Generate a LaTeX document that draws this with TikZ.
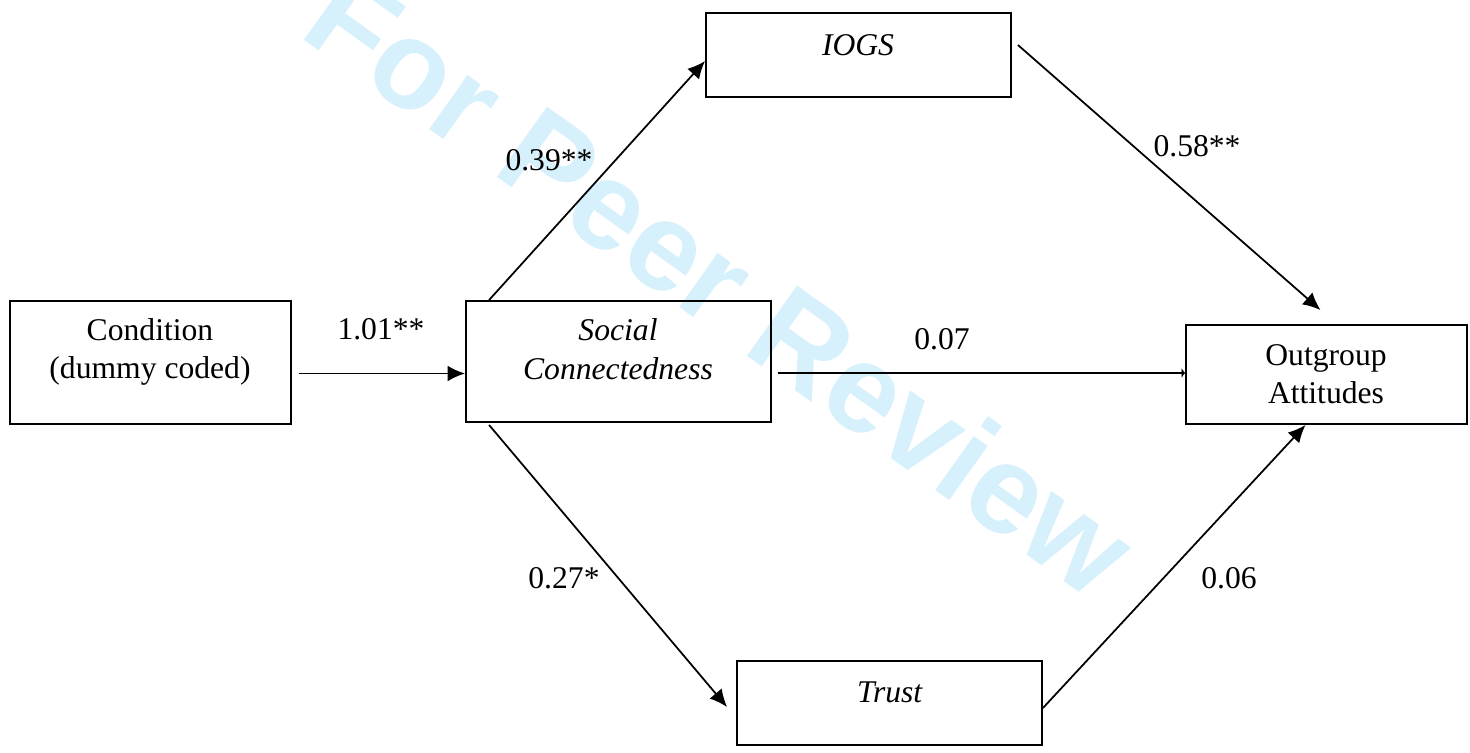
\documentclass[tikz,border=0pt]{standalone}
\usepackage{fontspec}
\setmainfont{Liberation Serif}
\newfontfamily\wmfont{Liberation Sans}
\usetikzlibrary{arrows.meta, calc, positioning}
\definecolor{wmblue}{RGB}{214,240,252}

\begin{document}
\begin{tikzpicture}[x=0.02cm, y=-0.02cm]
  \useasboundingbox (0,0) rectangle (1470,752);
  \node[anchor=base west, rotate=-35.5, inner sep=0pt, text=wmblue, font=\wmfont\bfseries\fontsize{71.5}{80}\selectfont] (wm) at (297,35) {For Peer Review};
  \begin{scope}[every node/.style = {font=\fontsize{18}{22}\selectfont},
                link/.style = {line width=1pt, -{Latex[length=10pt, width=9pt]}}]
    \node[anchor=center, draw, line width=1.1pt, minimum width=5.62cm, minimum height=2.46cm] (cond) at (150.5,362.5) {};
    \node[anchor=center, draw, line width=1.1pt, minimum width=6.1cm, minimum height=2.42cm] (soc) at (618.5,361.5) {};
    \node[anchor=center, draw, line width=1.1pt, minimum width=6.1cm, minimum height=1.68cm] (iogs) at (858.5,55) {};
    \node[anchor=center, draw, line width=1.1pt, minimum width=6.1cm, minimum height=1.68cm] (trust) at (889.5,703) {};
    \node[anchor=center, draw, line width=1.1pt, minimum width=5.62cm, minimum height=1.98cm] (out) at (1326.5,374.5) {};
    \node[anchor=center, align=center, inner sep=0pt] (condT) at (150,352) {Condition\\(dummy coded)};
    \node[anchor=center, align=center, inner sep=0pt] (socT) at (618,349) {\textit{Social}\\\textit{Connectedness}};
    \node[anchor=center, inner sep=0pt] (iogsT) at (858,45.5) {\textit{IOGS}};
    \node[anchor=center, inner sep=0pt] (trustT) at (890,692) {\textit{Trust}};
    \node[anchor=center, align=center, inner sep=0pt] (outT) at (1326,374) {Outgroup\\Attitudes};
    \draw[link] ($(cond.east)+(7,11)$) coordinate (c1) -- (c1 -| soc.west);
    \draw[link] ($(soc.north west)+(24,0)$) -- ($(iogs.west)+(0,6)$);
    \draw[link] ($(iogs.east)+(6,-10)$) -- ($(out.north)+(-6,-14)$);
    \draw[line width=1pt, -{Latex[length=2pt, width=6pt]}] ($(soc.east)+(6,11.5)$) coordinate (c2) -- (c2 -| out.west);
    \draw[link] ($(soc.south west)+(24,2)$) -- ($(trust.west)+(-9,4)$);
    \draw[link] ($(trust.east)+(0,5)$) -- ($(out.south)+(-21,0)$);
    \node[inner sep=0pt] (L1) at (381,329) {1.01**};
    \node[inner sep=0pt] (L2) at (549,160) {0.39**};
    \node[inner sep=0pt] (L3) at (1197,146) {0.58**};
    \node[inner sep=0pt] (L4) at (942,339) {0.07};
    \node[inner sep=0pt] (L5) at (564,578) {0.27*};
    \node[inner sep=0pt] (L6) at (1229,578) {0.06};
  \end{scope}
\end{tikzpicture}
\end{document}
